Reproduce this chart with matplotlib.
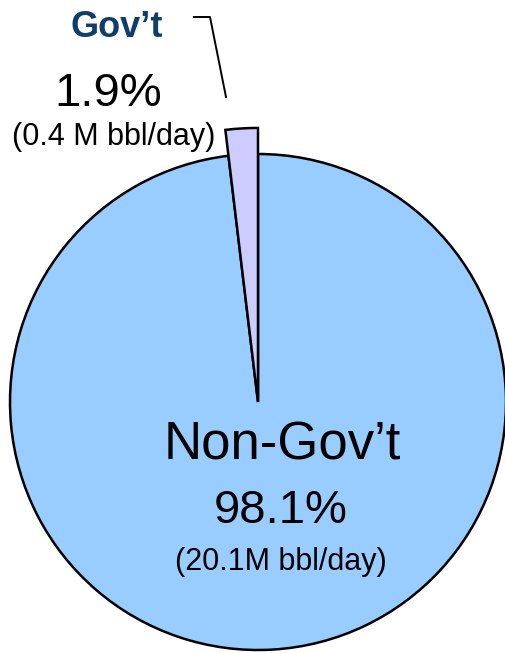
import matplotlib.pyplot as plt

# data
labels = ["Gov’t", "Non-Gov’t"]
shares = [1.9, 98.1]              # percent
volumes = ["0.4 M", "20.1M"]      # bbl/day
colors = ["#CCCCFF", "#99CCFF"]

W, H = 506, 653
plt.rcParams['font.family'] = ['Liberation Sans', 'DejaVu Sans']

fig = plt.figure(figsize=(W / 100, H / 100), dpi=100)
ax = fig.add_axes([0, 0, 1, 1])

# pie placed in pixel coordinates (y measured from the bottom)
cx, cy, r = 258, H - 402, 248
wedges, _ = ax.pie(shares, colors=colors, startangle=90, counterclock=True,
                   center=(cx, cy), radius=r,
                   wedgeprops=dict(edgecolor='black', linewidth=1.8))
# the Gov't slice sticks out beyond the rim
wedges[0].set_radius(r * 1.105)
wedges[0].set_zorder(3)

ax.set_xlim(0, W)
ax.set_ylim(0, H)
ax.set_aspect('equal')
ax.axis('off')

# Gov't labels
ax.text(117, H - 37, labels[0], ha='center', va='baseline',
        fontsize=26, fontweight='bold', color='#0F3D6E')
ax.text(108, H - 106, f"{shares[0]}%", ha='center', va='baseline', fontsize=34)
ax.text(114, H - 145, f"({volumes[0]} bbl/day)", ha='center', va='baseline',
        fontsize=22)
# leader line
ax.plot([194, 210, 226], [H - 17, H - 17, H - 97], color='black', lw=1.4)

# Non-Gov't labels
ax.text(282, H - 459, labels[1], ha='center', va='baseline', fontsize=38)
ax.text(281, H - 523, f"{shares[1]}%", ha='center', va='baseline', fontsize=34)
ax.text(281, H - 570, f"({volumes[1]} bbl/day)", ha='center', va='baseline',
        fontsize=22)

fig.savefig("out.png", dpi=100)
